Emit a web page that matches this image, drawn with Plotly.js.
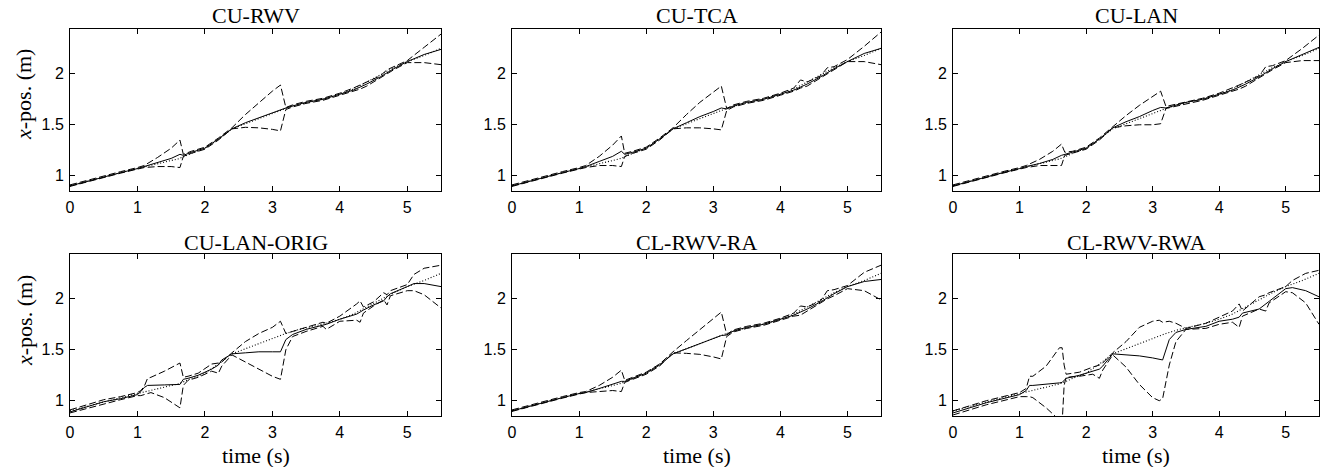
<!DOCTYPE html>
<html>
<head>
<meta charset="utf-8">
<script src="https://cdn.plot.ly/plotly-3.0.1.min.js"></script>
<style>html,body{margin:0;padding:0;background:#fff;}#chart{width:1323px;height:467px;}</style>
</head>
<body>
<div id="chart"></div>
<script>
// ---- data ----
const panelTitles = ["CU-RWV", "CU-TCA", "CU-LAN", "CU-LAN-ORIG", "CL-RWV-RA", "CL-RWV-RWA"];
const xTickVals = [0, 1, 2, 3, 4, 5];
const yTickVals = [1, 1.5, 2];
const yTickText = ["1", "1.5", "2"];

// ground truth (dotted)
const tTruth = [0, 0.25, 0.5, 0.75, 1.0, 1.2, 1.4, 1.6, 1.7, 1.8, 2.0, 2.2, 2.4, 2.6, 2.8, 3.0, 3.2, 3.4, 3.6, 3.8, 4.0, 4.2, 4.4, 4.6, 4.8, 5.0, 5.25, 5.5];
const xTruth = [0.90, 0.945, 0.99, 1.03, 1.07, 1.10, 1.13, 1.165, 1.19, 1.22, 1.27, 1.36, 1.46, 1.51, 1.56, 1.61, 1.66, 1.70, 1.73, 1.76, 1.80, 1.85, 1.92, 1.99, 2.06, 2.12, 2.18, 2.25];

// time grid for the smooth panels
const tSmooth = [0, 0.25, 0.5, 0.75, 1.0, 1.1, 1.3, 1.5, 1.63, 1.68, 1.8, 2.0, 2.2, 2.4, 2.6, 2.8, 3.0, 3.12, 3.2, 3.3, 3.5, 3.75, 4.0, 4.2, 4.3, 4.4, 4.6, 4.7, 4.8, 5.0, 5.25, 5.5];

// CU-RWV
const est1 = [0.90, 0.945, 0.99, 1.03, 1.07, 1.09, 1.13, 1.17, 1.21, 1.20, 1.23, 1.27, 1.36, 1.46, 1.52, 1.57, 1.62, 1.65, 1.665, 1.685, 1.72, 1.75, 1.80, 1.84, 1.87, 1.90, 1.97, 2.01, 2.05, 2.12, 2.19, 2.24];
const up1  = [0.91, 0.955, 1.00, 1.04, 1.08, 1.10, 1.18, 1.27, 1.35, 1.21, 1.24, 1.28, 1.37, 1.47, 1.60, 1.72, 1.83, 1.89, 1.67, 1.695, 1.73, 1.76, 1.81, 1.86, 1.89, 1.92, 1.98, 2.04, 2.07, 2.13, 2.26, 2.39];
const lo1  = [0.895, 0.94, 0.985, 1.025, 1.065, 1.08, 1.09, 1.09, 1.08, 1.19, 1.22, 1.26, 1.35, 1.46, 1.475, 1.47, 1.455, 1.44, 1.65, 1.675, 1.71, 1.74, 1.79, 1.83, 1.85, 1.88, 1.96, 2.00, 2.04, 2.11, 2.11, 2.09];

// CU-TCA
const est2 = [0.90, 0.945, 0.99, 1.03, 1.07, 1.09, 1.14, 1.19, 1.24, 1.21, 1.23, 1.27, 1.36, 1.46, 1.52, 1.58, 1.63, 1.665, 1.655, 1.685, 1.72, 1.75, 1.80, 1.84, 1.87, 1.90, 1.97, 2.01, 2.05, 2.12, 2.20, 2.25];
const up2  = [0.91, 0.955, 1.00, 1.04, 1.08, 1.10, 1.19, 1.30, 1.39, 1.22, 1.24, 1.28, 1.37, 1.47, 1.60, 1.72, 1.82, 1.88, 1.66, 1.695, 1.73, 1.76, 1.81, 1.86, 1.94, 1.92, 1.98, 2.06, 2.07, 2.14, 2.27, 2.41];
const lo2  = [0.895, 0.94, 0.985, 1.025, 1.065, 1.08, 1.10, 1.10, 1.09, 1.19, 1.22, 1.26, 1.35, 1.46, 1.47, 1.47, 1.46, 1.45, 1.64, 1.675, 1.71, 1.74, 1.79, 1.83, 1.86, 1.88, 1.96, 2.00, 2.04, 2.12, 2.12, 2.09];

// CU-LAN
const est3 = [0.90, 0.945, 0.99, 1.03, 1.07, 1.09, 1.12, 1.16, 1.20, 1.21, 1.23, 1.27, 1.36, 1.47, 1.53, 1.58, 1.64, 1.67, 1.665, 1.685, 1.72, 1.75, 1.80, 1.84, 1.87, 1.90, 1.97, 2.01, 2.05, 2.12, 2.19, 2.26];
const up3  = [0.91, 0.955, 1.00, 1.04, 1.08, 1.10, 1.16, 1.24, 1.31, 1.23, 1.24, 1.28, 1.37, 1.48, 1.59, 1.69, 1.78, 1.83, 1.68, 1.695, 1.73, 1.76, 1.81, 1.86, 1.89, 1.92, 1.98, 2.07, 2.08, 2.13, 2.25, 2.38];
const lo3  = [0.895, 0.94, 0.985, 1.025, 1.065, 1.08, 1.10, 1.10, 1.10, 1.20, 1.22, 1.26, 1.35, 1.47, 1.49, 1.50, 1.50, 1.51, 1.66, 1.675, 1.71, 1.74, 1.79, 1.83, 1.85, 1.88, 1.96, 2.00, 2.04, 2.11, 2.13, 2.13];

// CL-RWV-RA
const est5 = [0.90, 0.945, 0.99, 1.03, 1.07, 1.08, 1.12, 1.16, 1.19, 1.19, 1.22, 1.27, 1.35, 1.46, 1.51, 1.56, 1.61, 1.64, 1.645, 1.685, 1.72, 1.75, 1.80, 1.84, 1.87, 1.90, 1.97, 2.01, 2.05, 2.12, 2.17, 2.19];
const up5  = [0.91, 0.955, 1.00, 1.04, 1.08, 1.09, 1.15, 1.23, 1.30, 1.20, 1.23, 1.28, 1.36, 1.48, 1.59, 1.70, 1.81, 1.87, 1.65, 1.695, 1.73, 1.76, 1.81, 1.86, 1.93, 1.92, 1.98, 2.08, 2.09, 2.13, 2.26, 2.33];
const lo5  = [0.895, 0.94, 0.985, 1.025, 1.065, 1.08, 1.09, 1.10, 1.09, 1.18, 1.21, 1.26, 1.34, 1.47, 1.465, 1.455, 1.43, 1.41, 1.63, 1.675, 1.71, 1.74, 1.79, 1.83, 1.84, 1.88, 1.96, 2.00, 2.03, 2.10, 2.08, 1.99];

// CU-LAN-ORIG
const tOrig = [0, 0.25, 0.5, 0.75, 1.0, 1.05, 1.1, 1.15, 1.2, 1.4, 1.63, 1.68, 1.75, 1.9, 2.1, 2.2, 2.25, 2.4, 2.6, 2.8, 3.0, 3.12, 3.2, 3.3, 3.5, 3.75, 3.8, 4.0, 4.25, 4.3, 4.35, 4.5, 4.65, 4.7, 4.75, 5.0, 5.1, 5.25, 5.5];
const est4 = [0.89, 0.94, 0.99, 1.02, 1.06, 1.09, 1.13, 1.15, 1.15, 1.155, 1.16, 1.21, 1.22, 1.25, 1.31, 1.35, 1.40, 1.46, 1.47, 1.48, 1.48, 1.48, 1.60, 1.65, 1.70, 1.74, 1.75, 1.80, 1.85, 1.87, 1.89, 1.94, 1.98, 2.02, 2.05, 2.12, 2.15, 2.15, 2.12];
const up4  = [0.91, 0.96, 1.01, 1.04, 1.08, 1.10, 1.14, 1.22, 1.23, 1.29, 1.37, 1.23, 1.24, 1.27, 1.36, 1.37, 1.38, 1.47, 1.58, 1.66, 1.72, 1.78, 1.66, 1.68, 1.72, 1.77, 1.76, 1.83, 1.95, 1.98, 1.92, 1.97, 2.06, 2.04, 2.08, 2.14, 2.24, 2.30, 2.33];
const lo4  = [0.88, 0.925, 0.97, 1.01, 1.05, 1.05, 1.06, 1.07, 1.08, 1.03, 0.93, 1.15, 1.20, 1.23, 1.29, 1.27, 1.34, 1.45, 1.38, 1.31, 1.24, 1.21, 1.50, 1.63, 1.68, 1.73, 1.70, 1.78, 1.79, 1.77, 1.86, 1.93, 1.99, 1.94, 2.03, 2.08, 2.08, 2.04, 1.91];

// CL-RWV-RWA
const tRwa = [0, 0.25, 0.5, 0.75, 1.0, 1.1, 1.15, 1.2, 1.4, 1.5, 1.6, 1.64, 1.67, 1.7, 1.9, 2.1, 2.2, 2.25, 2.4, 2.6, 2.8, 3.0, 3.1, 3.15, 3.25, 3.35, 3.5, 3.8, 4.0, 4.2, 4.3, 4.35, 4.6, 4.7, 4.75, 5.0, 5.1, 5.3, 5.5];
const est6 = [0.88, 0.93, 0.98, 1.02, 1.06, 1.10, 1.15, 1.15, 1.16, 1.17, 1.175, 1.18, 1.20, 1.22, 1.25, 1.29, 1.31, 1.34, 1.46, 1.45, 1.44, 1.42, 1.41, 1.40, 1.60, 1.67, 1.70, 1.73, 1.78, 1.80, 1.82, 1.86, 1.90, 1.95, 1.98, 2.10, 2.11, 2.08, 2.02];
const up6  = [0.90, 0.95, 1.00, 1.04, 1.08, 1.12, 1.24, 1.24, 1.34, 1.43, 1.52, 1.52, 1.35, 1.26, 1.28, 1.33, 1.35, 1.37, 1.47, 1.58, 1.72, 1.78, 1.79, 1.77, 1.78, 1.76, 1.71, 1.76, 1.82, 1.88, 1.95, 1.88, 2.02, 2.04, 2.06, 2.12, 2.18, 2.25, 2.28];
const lo6  = [0.86, 0.91, 0.96, 1.00, 1.04, 1.04, 1.04, 1.03, 0.93, 0.87, 0.80, 0.78, 1.15, 1.23, 1.24, 1.26, 1.22, 1.30, 1.45, 1.33, 1.16, 1.03, 1.00, 1.02, 1.35, 1.58, 1.70, 1.71, 1.75, 1.77, 1.72, 1.83, 1.90, 1.88, 1.96, 2.07, 2.06, 1.96, 1.75];

const panels = [
  {t: tSmooth, est: est1, up: up1, lo: lo1},
  {t: tSmooth, est: est2, up: up2, lo: lo2},
  {t: tSmooth, est: est3, up: up3, lo: lo3},
  {t: tOrig,   est: est4, up: up4, lo: lo4},
  {t: tSmooth, est: est5, up: up5, lo: lo5},
  {t: tRwa,    est: est6, up: up6, lo: lo6}
];

// ---- layout geometry ----
const W = 1323, H = 467;
const colPx = [[70, 441], [512, 881], [953, 1319]];
const rowPx = [[29, 191], [254, 416]];
const titleCenterPx = [15, 242];
const ylabelCenterPx = [95, 321];

const traces = [];
const layout = {
  width: W, height: H,
  margin: {l: 0, r: 0, t: 0, b: 0},
  paper_bgcolor: "#fff", plot_bgcolor: "#fff",
  showlegend: false,
  annotations: []
};
const serif = "Liberation Serif, Times New Roman, serif";
const sans = "Liberation Sans, Arial, Helvetica, sans-serif";

panels.forEach((p, i) => {
  const n = i + 1;
  const xa = n === 1 ? "x" : "x" + n;
  const ya = n === 1 ? "y" : "y" + n;
  const col = i % 3, row = Math.floor(i / 3);
  const xd = [colPx[col][0] / W, colPx[col][1] / W];
  const yd = [(H - rowPx[row][1]) / H, (H - rowPx[row][0]) / H];
  const base = {type: "scatter", mode: "lines", xaxis: xa, yaxis: ya, hoverinfo: "skip"};
  traces.push(Object.assign({}, base, {x: tTruth, y: xTruth, line: {color: "#000", width: 1.1, dash: "1px,2px"}}));
  traces.push(Object.assign({}, base, {x: p.t, y: p.up, line: {color: "#000", width: 1, dash: "7px,3px"}}));
  traces.push(Object.assign({}, base, {x: p.t, y: p.lo, line: {color: "#000", width: 1, dash: "7px,3px"}}));
  traces.push(Object.assign({}, base, {x: p.t, y: p.est, line: {color: "#000", width: 1}}));
  const axCommon = {
    showgrid: false, zeroline: false, showline: true, linecolor: "#000", linewidth: 1,
    mirror: "ticks", ticks: "inside", ticklen: 5, tickwidth: 1, tickcolor: "#000",
    tickfont: {family: sans, size: 16, color: "#000"}, fixedrange: true
  };
  layout["xaxis" + (n === 1 ? "" : n)] = Object.assign({}, axCommon, {
    domain: xd, anchor: ya, range: [0, 5.5], tickvals: xTickVals, ticktext: xTickVals.map(String),
    ticklabelstandoff: 2
  });
  layout["yaxis" + (n === 1 ? "" : n)] = Object.assign({}, axCommon, {
    domain: yd, anchor: xa, range: [0.85, 2.44], tickvals: yTickVals, ticktext: yTickText,
    ticklabelstandoff: 2
  });
  layout.annotations.push({
    xref: "paper", yref: "paper", x: (xd[0] + xd[1]) / 2, y: (H - titleCenterPx[row]) / H,
    yanchor: "middle", xanchor: "center",
    showarrow: false, text: panelTitles[i], font: {family: serif, size: 22, color: "#000"}
  });
  if (col === 0) {
    layout.annotations.push({
      xref: "paper", yref: "paper", x: 24 / W, y: (H - ylabelCenterPx[row]) / H, xanchor: "center", yanchor: "middle",
      textangle: -90, showarrow: false, text: "<i>x</i>-pos. (m)",
      font: {family: serif, size: 22, color: "#000"}
    });
  }
  if (row === 1) {
    layout.annotations.push({
      xref: "paper", yref: "paper", x: (xd[0] + xd[1]) / 2, y: (H - 455) / H, xanchor: "center", yanchor: "middle",
      showarrow: false, text: "time (s)", font: {family: serif, size: 22, color: "#000"}
    });
  }
});

Plotly.newPlot("chart", traces, layout, {displayModeBar: false, staticPlot: true});
</script>
</body>
</html>
